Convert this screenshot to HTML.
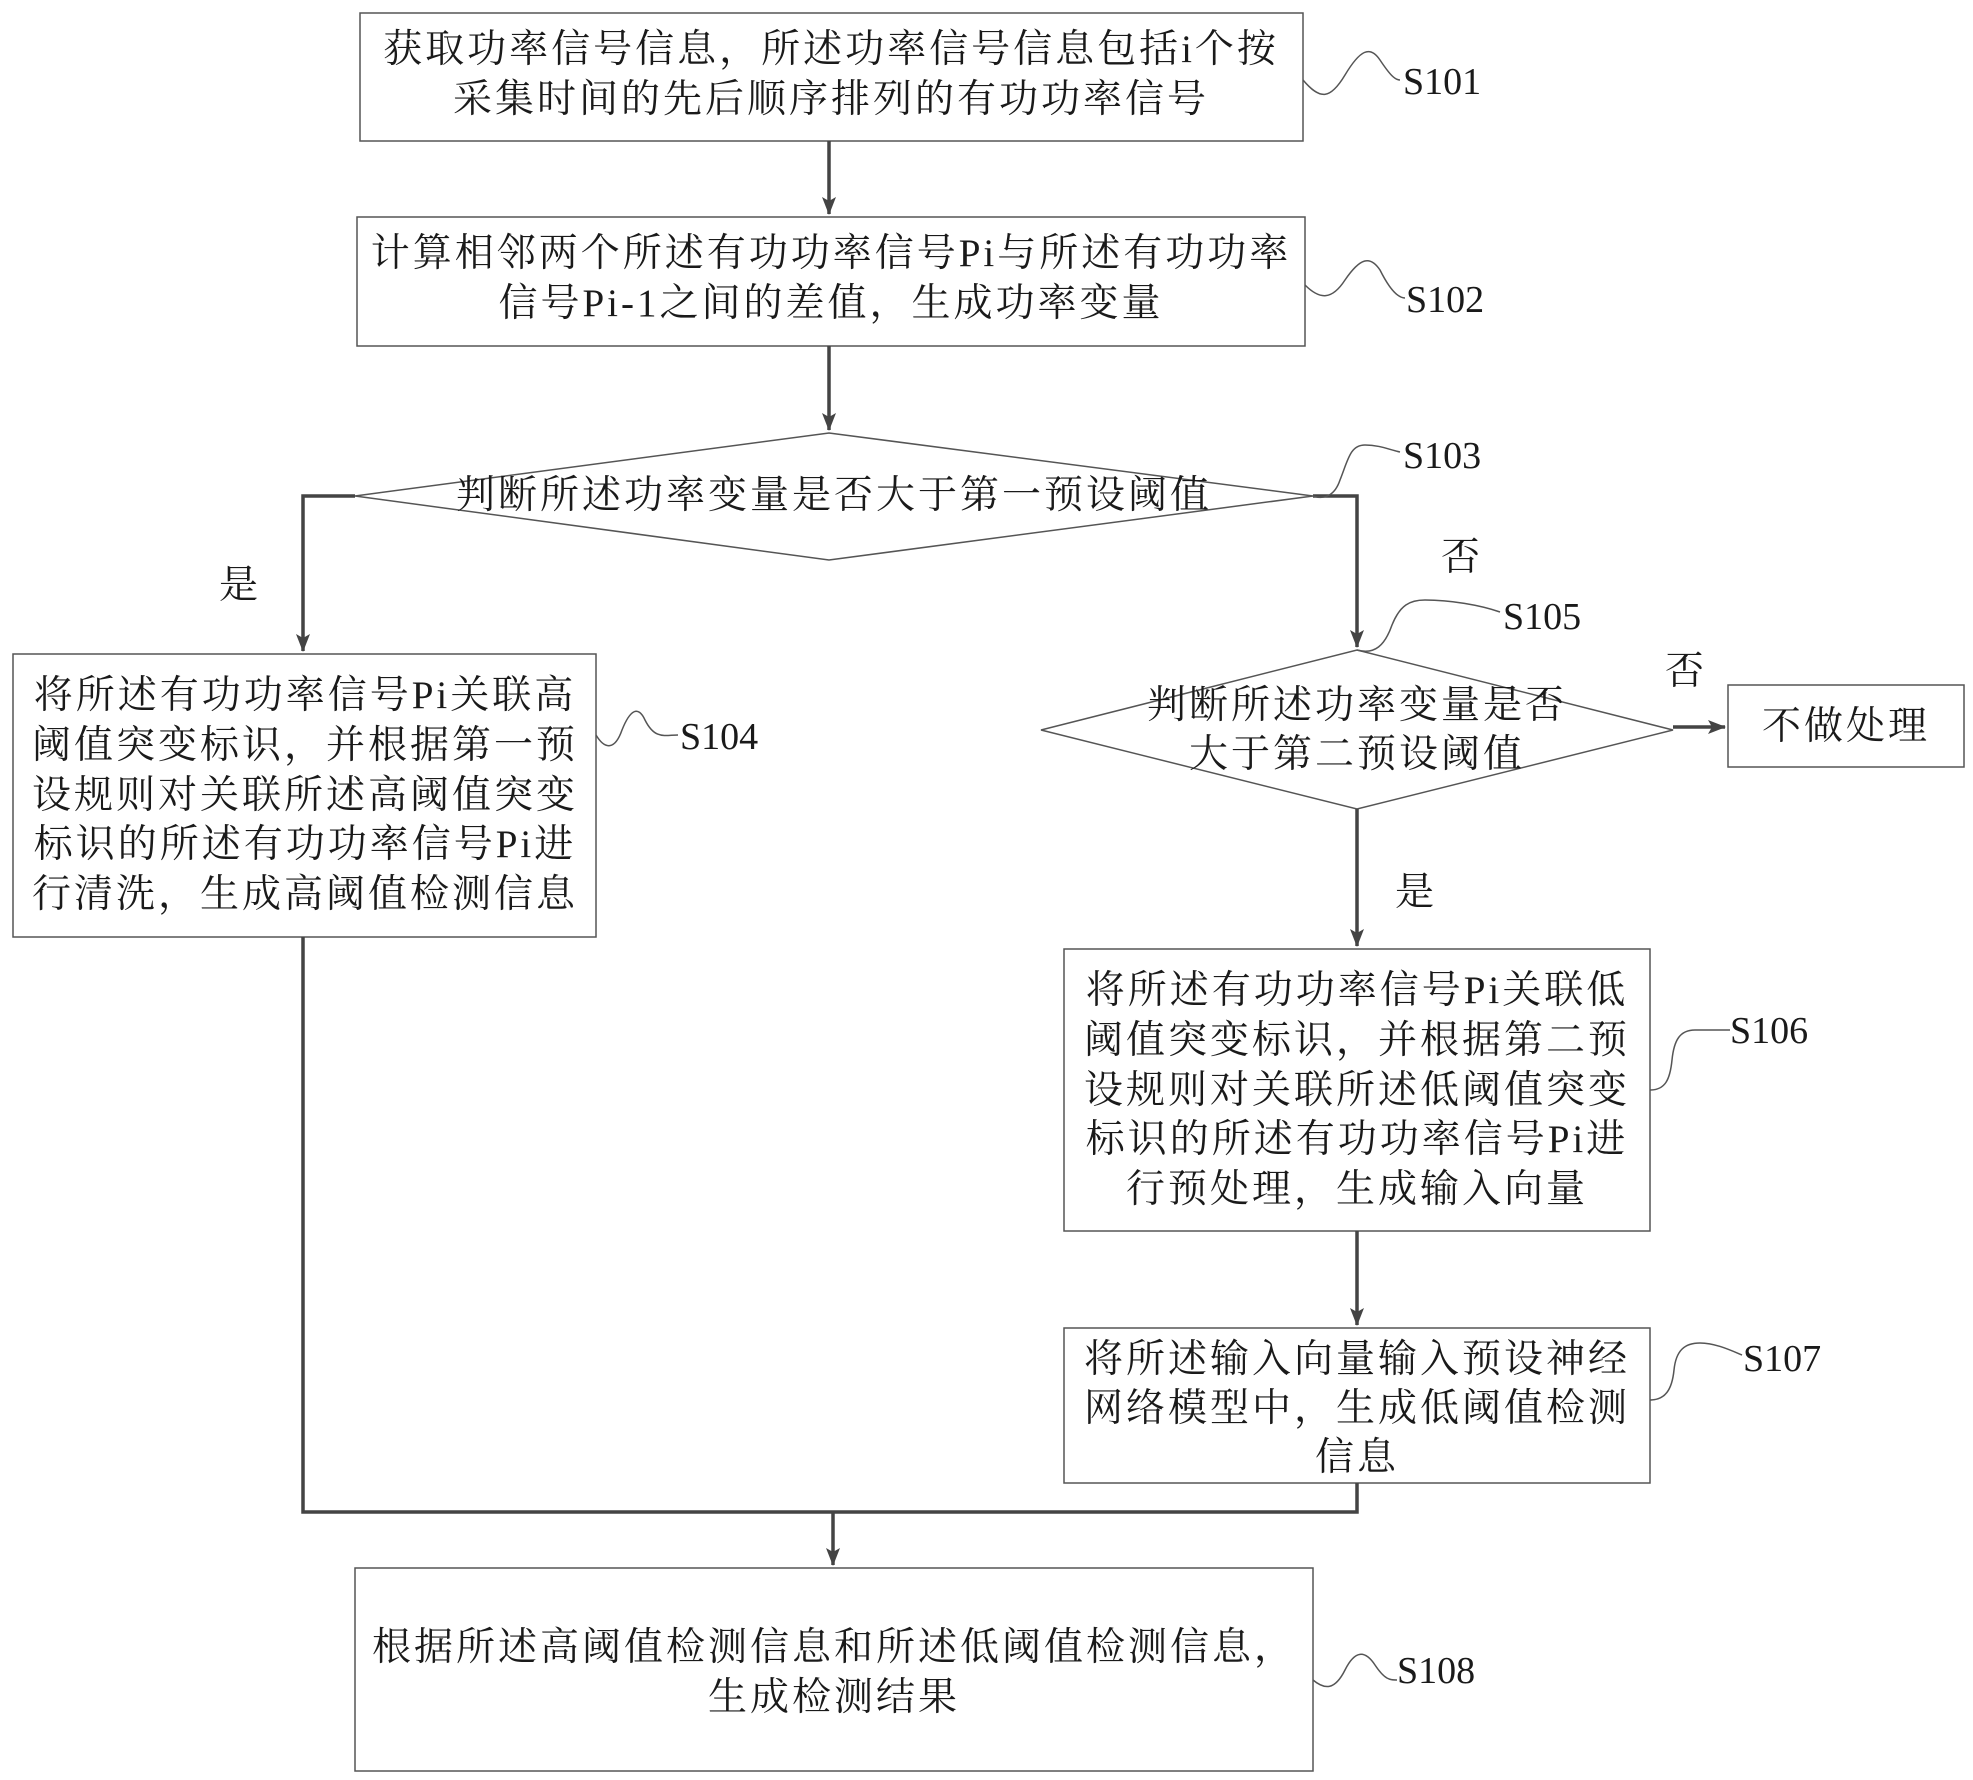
<!DOCTYPE html>
<html><head><meta charset="utf-8"><style>
html,body{margin:0;padding:0;background:#fff}
svg{display:block}
text{font-family:"Liberation Serif","Noto Serif CJK SC","Noto Sans CJK SC",serif;fill:#1a1a1a}
.c{font-size:39px;text-anchor:middle;letter-spacing:3px}
.s{font-size:38px;font-family:"Liberation Serif",serif}
</style></head><body>
<svg width="1973" height="1780" viewBox="0 0 1973 1780" xmlns="http://www.w3.org/2000/svg">
<defs>
<marker id="b" markerWidth="18" markerHeight="18" refX="17" refY="9" orient="auto" markerUnits="userSpaceOnUse"><path d="M0,2 L18,9 L0,16 L4,9 Z" fill="#444"/></marker></defs>
<g fill="none" stroke="#555" stroke-width="1.5">
<rect x="360" y="13" width="943" height="128"/>
<rect x="357" y="217" width="948" height="129"/>
<polygon points="355,496 829,433 1313,496 829,560"/>
<rect x="13" y="654" width="583" height="283"/>
<polygon points="1041,730 1357,650 1673,730 1357,809"/>
<rect x="1728" y="685" width="236" height="82"/>
<rect x="1064" y="949" width="586" height="282"/>
<rect x="1064" y="1328" width="586" height="155"/>
<rect x="355" y="1568" width="958" height="203"/>
</g>
<g fill="none" stroke="#444" stroke-width="3.5">
<line x1="829" y1="141" x2="829" y2="214" marker-end="url(#b)"/>
<line x1="829" y1="346" x2="829" y2="430" marker-end="url(#b)"/>
<polyline points="355,496 303,496 303,651" marker-end="url(#b)"/>
<polyline points="1313,496 1357,496 1357,647" marker-end="url(#b)"/>
<line x1="1673" y1="727" x2="1725" y2="727" marker-end="url(#b)"/>
<line x1="1357" y1="809" x2="1357" y2="946" marker-end="url(#b)"/>
<line x1="1357" y1="1231" x2="1357" y2="1325" marker-end="url(#b)"/>
<polyline points="303,937 303,1512 1357,1512 1357,1483"/>
<line x1="833" y1="1512" x2="833" y2="1565" marker-end="url(#b)"/>
</g>
<g fill="none" stroke="#555" stroke-width="1.5">
<path d="M1303,80 C1320,100 1330,100 1345,75 C1360,50 1370,45 1380,60 C1390,75 1395,80 1400,80"/>
<path d="M1305,285 C1320,300 1332,300 1345,280 C1360,258 1370,255 1380,270 C1390,290 1398,298 1405,298"/>
<path d="M1313,496 C1325,500 1335,495 1340,480 C1348,460 1350,445 1365,445 C1380,445 1390,450 1400,452"/>
<path d="M1357,650 C1375,655 1385,645 1392,625 C1400,605 1410,600 1425,600 C1450,600 1480,605 1500,612"/>
<path d="M596,735 C605,750 615,750 622,730 C630,710 638,705 645,720 C655,740 665,735 678,735"/>
<path d="M1650,1090 C1665,1090 1670,1080 1672,1060 C1674,1040 1680,1030 1695,1030 C1710,1030 1720,1030 1730,1030"/>
<path d="M1650,1400 C1665,1400 1672,1390 1674,1370 C1676,1350 1685,1343 1700,1343 C1715,1343 1730,1350 1742,1355"/>
<path d="M1313,1680 C1325,1690 1335,1690 1345,1670 C1355,1650 1365,1650 1375,1665 C1385,1680 1390,1680 1397,1680"/>
</g>
<text class="c" x="831" y="62">获取功率信号信息，所述功率信号信息包括i个按</text>
<text class="c" x="831" y="112">采集时间的先后顺序排列的有功功率信号</text>
<text class="c" x="831" y="266">计算相邻两个所述有功功率信号Pi与所述有功功率</text>
<text class="c" x="831" y="316">信号Pi-1之间的差值，生成功率变量</text>
<text class="c" x="834" y="508">判断所述功率变量是否大于第一预设阈值</text>
<text class="c" x="305" y="708">将所述有功功率信号Pi关联高</text>
<text class="c" x="305" y="758">阈值突变标识，并根据第一预</text>
<text class="c" x="305" y="808">设规则对关联所述高阈值突变</text>
<text class="c" x="305" y="857">标识的所述有功功率信号Pi进</text>
<text class="c" x="305" y="907">行清洗，生成高阈值检测信息</text>
<text class="c" x="1357" y="718">判断所述功率变量是否</text>
<text class="c" x="1357" y="767">大于第二预设阈值</text>
<text class="c" x="1846" y="739">不做处理</text>
<text class="c" x="1357" y="1003">将所述有功功率信号Pi关联低</text>
<text class="c" x="1357" y="1053">阈值突变标识，并根据第二预</text>
<text class="c" x="1357" y="1103">设规则对关联所述低阈值突变</text>
<text class="c" x="1357" y="1152">标识的所述有功功率信号Pi进</text>
<text class="c" x="1357" y="1202">行预处理，生成输入向量</text>
<text class="c" x="1357" y="1372">将所述输入向量输入预设神经</text>
<text class="c" x="1357" y="1421">网络模型中，生成低阈值检测</text>
<text class="c" x="1357" y="1470">信息</text>
<text class="c" x="834" y="1660">根据所述高阈值检测信息和所述低阈值检测信息，</text>
<text class="c" x="834" y="1710">生成检测结果</text>
<text class="c" x="240" y="598">是</text>
<text class="c" x="1462" y="570">否</text>
<text class="c" x="1686" y="684">否</text>
<text class="c" x="1416" y="905">是</text>
<text class="s" x="1403" y="94">S101</text>
<text class="s" x="1406" y="312">S102</text>
<text class="s" x="1403" y="468">S103</text>
<text class="s" x="1503" y="629">S105</text>
<text class="s" x="680" y="749">S104</text>
<text class="s" x="1730" y="1043">S106</text>
<text class="s" x="1743" y="1371">S107</text>
<text class="s" x="1397" y="1683">S108</text>
</svg>
</body></html>
